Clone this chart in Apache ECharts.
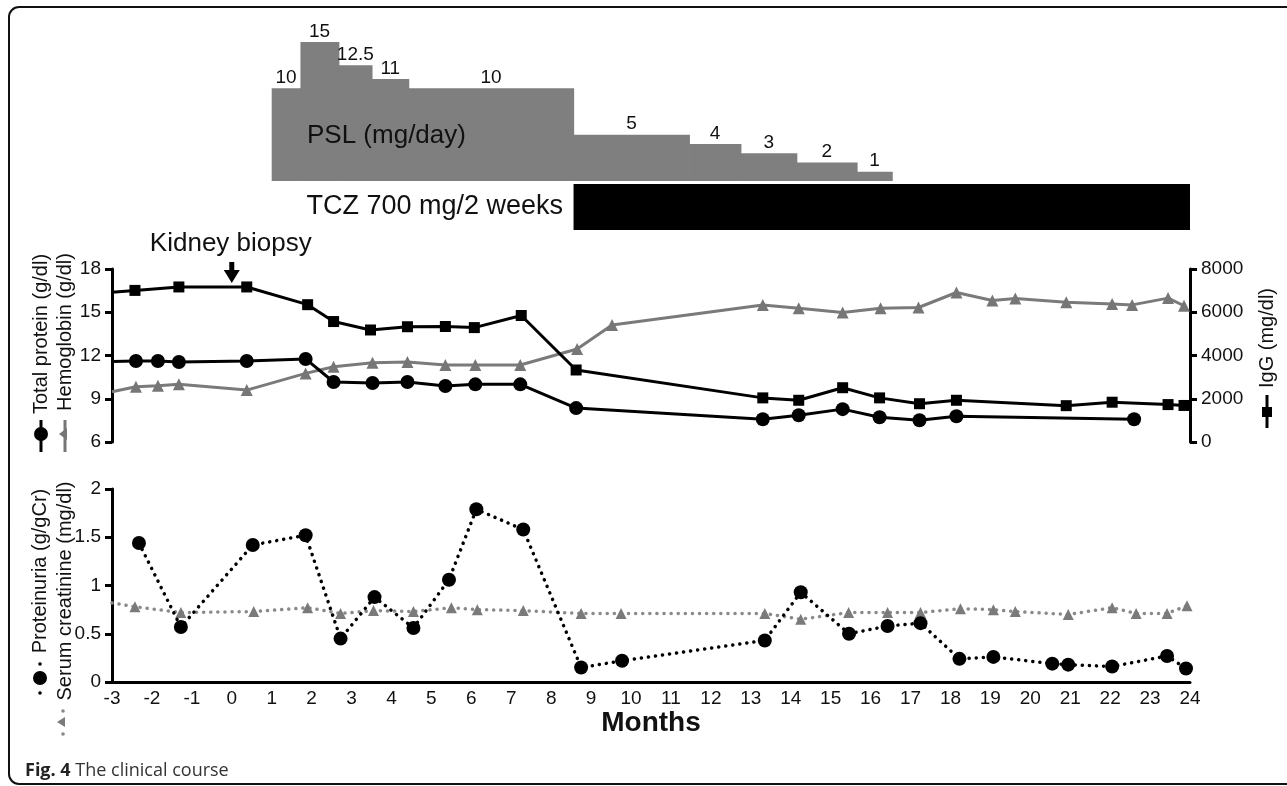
<!DOCTYPE html>
<html><head><meta charset="utf-8">
<script src="https://cdn.jsdelivr.net/npm/echarts@6/dist/echarts.min.js"></script>
<style>html,body{margin:0;padding:0;background:#fff}#c{width:1287px;height:786px}</style>
</head><body><div id="c"></div><script>
// ---------- data (months from kidney biopsy) ----------
const monthTicks = [-3,-2,-1,0,1,2,3,4,5,6,7,8,9,10,11,12,13,14,15,16,17,18,19,20,21,22,23,24];

const pslStart = [1.0, 1.72, 2.68, 3.51, 4.43, 8.56, 11.46, 12.75, 14.15, 15.66];
const pslEnd   = [1.72, 2.68, 3.51, 4.43, 8.56, 11.46, 12.75, 14.15, 15.66, 16.54];
const pslDose  = [10, 15, 12.5, 11, 10, 5, 4, 3, 2, 1];

const tczStart = [8.56];
const tczEnd   = [24];

const biopsyMonth = [0];

const tpMonths = [-3, -2.4, -1.85, -1.325, 0.375, 1.85, 2.55, 3.525, 4.4, 5.35, 6.1, 7.225, 8.625, 13.3, 14.2, 15.3, 16.225, 17.225, 18.15, 22.6];
const tpValues = [11.58, 11.62, 11.62, 11.55, 11.62, 11.76, 10.16, 10.09, 10.16, 9.88, 10.0, 10.0, 8.35, 7.58, 7.86, 8.28, 7.72, 7.51, 7.79, 7.58];

const hbMonths = [-3, -2.4, -1.85, -1.325, 0.375, 1.85, 2.55, 3.525, 4.4, 5.35, 6.1, 7.225, 8.65, 9.525, 13.3, 14.2, 15.3, 16.25, 17.2, 18.15, 19.05, 19.625, 20.9, 22.05, 22.55, 23.45, 23.85];
const hbValues = [9.48, 9.83, 9.9, 10.0, 9.6, 10.76, 11.22, 11.5, 11.55, 11.34, 11.34, 11.34, 12.45, 14.12, 15.5, 15.27, 14.98, 15.27, 15.33, 16.37, 15.81, 15.95, 15.7, 15.58, 15.51, 15.98, 15.45];

const igMonths = [-3, -2.425, -1.325, 0.375, 1.9, 2.55, 3.475, 4.4, 5.35, 6.075, 7.25, 8.625, 13.3, 14.2, 15.3, 16.225, 17.225, 18.15, 20.9, 22.05, 23.45, 23.85];
const igValues = [6930, 7010, 7170, 7170, 6350, 5570, 5180, 5330, 5340, 5290, 5850, 3330, 2040, 1930, 2510, 2040, 1770, 1930, 1680, 1840, 1730, 1690];

const upMonths = [-2.325, -1.275, 0.525, 1.85, 2.725, 3.575, 4.55, 5.44, 6.125, 7.3, 8.75, 9.775, 13.35, 14.25, 15.46, 16.425, 17.25, 18.225, 19.075, 20.55, 20.95, 22.05, 23.425, 23.9];
const upValues = [1.44, 0.57, 1.42, 1.52, 0.45, 0.88, 0.56, 1.06, 1.79, 1.58, 0.15, 0.22, 0.43, 0.93, 0.50, 0.58, 0.61, 0.24, 0.26, 0.19, 0.18, 0.16, 0.27, 0.14];

const crMonths = [-3, -2.425, -1.275, 0.55, 1.9, 2.725, 3.55, 4.55, 5.5, 6.15, 7.3, 8.75, 9.75, 13.35, 14.25, 15.45, 16.425, 17.25, 18.25, 19.075, 19.625, 20.95, 22.05, 22.65, 23.425, 23.925];
const crValues = [0.82, 0.78, 0.72, 0.73, 0.77, 0.71, 0.74, 0.73, 0.77, 0.75, 0.74, 0.71, 0.71, 0.71, 0.65, 0.72, 0.72, 0.72, 0.76, 0.75, 0.73, 0.70, 0.77, 0.71, 0.71, 0.79];

const midLeftTicks = [6, 9, 12, 15, 18];
const midRightTicks = [0, 2000, 4000, 6000, 8000];
const botTicks = [0, 0.5, 1, 1.5, 2];

// ---------- helpers ----------
const FONT = '"Liberation Sans", Arial, sans-serif';
function pts(ms, vs, edgeAtStart) {
  return ms.map((m, i) => (edgeAtStart && i === 0) ? { value: [m, vs[i]], symbol: 'none' } : [m, vs[i]]);
}
const L = 112, R = 1287 - 1190;
const xHidden = (g) => ({ type: 'value', gridIndex: g, min: monthTicks[0], max: monthTicks[monthTicks.length - 1], show: false });
const axisLineStyle = { show: true, onZero: false, lineStyle: { color: '#000', width: 3 } };
const tickStyle = { show: true, length: 7, inside: false, lineStyle: { color: '#000', width: 3 } };
const labelStyle = { color: '#111', fontSize: 19, fontFamily: FONT, margin: 11, formatter: v => String(v) };

const chart = echarts.init(document.getElementById('c'), null, { renderer: 'canvas' });

const option = {
  animation: false,
  backgroundColor: '#fff',
  grid: [
    { left: L, right: R, top: 42, height: 139 },
    { left: L, right: R, top: 184, height: 46 },
    { left: L, right: R, top: 269, height: 173 },
    { left: L, right: R, top: 489, height: 193 }
  ],
  xAxis: [
    xHidden(0), xHidden(1), xHidden(2),
    {
      type: 'value', gridIndex: 3, min: monthTicks[0], max: monthTicks[monthTicks.length - 1], interval: 1,
      axisLine: axisLineStyle, axisTick: { show: false }, splitLine: { show: false },
      axisLabel: Object.assign({}, labelStyle, { margin: 7 })
    }
  ],
  yAxis: [
    { type: 'value', gridIndex: 0, min: 0, max: 15, show: false },
    { type: 'value', gridIndex: 1, min: 0, max: 1, show: false },
    {
      type: 'value', gridIndex: 2, min: midLeftTicks[0], max: midLeftTicks[midLeftTicks.length - 1], interval: 3,
      axisLine: axisLineStyle, axisTick: tickStyle, splitLine: { show: false }, axisLabel: labelStyle
    },
    {
      type: 'value', gridIndex: 2, position: 'right', min: midRightTicks[0], max: midRightTicks[midRightTicks.length - 1], interval: 2000,
      axisLine: axisLineStyle, axisTick: tickStyle, splitLine: { show: false }, axisLabel: labelStyle
    },
    {
      type: 'value', gridIndex: 3, min: botTicks[0], max: botTicks[botTicks.length - 1], interval: 0.5,
      axisLine: axisLineStyle, axisTick: tickStyle, splitLine: { show: false }, axisLabel: labelStyle
    }
  ],
  series: [
    {
      type: 'custom', name: 'PSL', xAxisIndex: 0, yAxisIndex: 0, z: 1,
      data: pslDose.map((d, i) => [pslStart[i], pslEnd[i], d]),
      encode: { x: [0, 1], y: 2 },
      renderItem: function (params, api) {
        const s = api.value(0), e = api.value(1), d = api.value(2);
        const p0 = api.coord([s, d]), p1 = api.coord([e, 0]);
        return {
          type: 'group', children: [
            { type: 'rect', shape: { x: p0[0], y: p0[1], width: p1[0] - p0[0] + 0.6, height: p1[1] - p0[1] }, style: { fill: '#7f7f7f' } },
            { type: 'text', x: (p0[0] + p1[0]) / 2, y: p0[1] - 1, style: { text: String(d), fill: '#111', font: '19px ' + FONT, align: 'center', verticalAlign: 'bottom' } }
          ]
        };
      }
    },
    {
      type: 'custom', name: 'TCZ', xAxisIndex: 1, yAxisIndex: 1, z: 1,
      data: tczStart.map((s, i) => [s, tczEnd[i]]),
      encode: { x: [0, 1] },
      renderItem: function (params, api) {
        const p0 = api.coord([api.value(0), 1]), p1 = api.coord([api.value(1), 0]);
        return { type: 'rect', shape: { x: p0[0], y: p0[1], width: p1[0] - p0[0], height: p1[1] - p0[1] }, style: { fill: '#000' } };
      }
    },
    {
      type: 'custom', name: 'Kidney biopsy', xAxisIndex: 2, yAxisIndex: 2, clip: false,
      data: biopsyMonth.map(m => [m, midLeftTicks[midLeftTicks.length - 1]]),
      renderItem: function (params, api) {
        const p = api.coord([api.value(0), api.value(1)]);
        const x = p[0], y = p[1];
        return {
          type: 'group', children: [
            { type: 'rect', shape: { x: x - 2.5, y: y - 7, width: 5, height: 9 }, style: { fill: '#000' } },
            { type: 'polygon', shape: { points: [[x - 8, y + 1], [x + 8, y + 1], [x, y + 14]] }, style: { fill: '#000' } },
            { type: 'text', x: x - 1, y: y - 25, style: { text: 'Kidney biopsy', fill: '#111', font: '26px ' + FONT, align: 'center', verticalAlign: 'middle' } }
          ]
        };
      }
    },
    {
      type: 'line', name: 'Hemoglobin', xAxisIndex: 2, yAxisIndex: 2,
      data: pts(hbMonths, hbValues, true),
      symbol: 'triangle', symbolSize: 12, itemStyle: { color: '#767676' },
      lineStyle: { color: '#7a7a7a', width: 3 }, z: 2
    },
    {
      type: 'line', name: 'IgG', xAxisIndex: 2, yAxisIndex: 3,
      data: pts(igMonths, igValues, true),
      symbol: 'rect', symbolSize: 11, itemStyle: { color: '#000' },
      lineStyle: { color: '#000', width: 3 }, z: 3
    },
    {
      type: 'line', name: 'Total protein', xAxisIndex: 2, yAxisIndex: 2,
      data: pts(tpMonths, tpValues, true),
      symbol: 'circle', symbolSize: 14, itemStyle: { color: '#000' },
      lineStyle: { color: '#000', width: 3 }, z: 3
    },
    {
      type: 'line', name: 'Serum creatinine', xAxisIndex: 3, yAxisIndex: 4,
      data: pts(crMonths, crValues, true),
      symbol: 'triangle', symbolSize: 11, itemStyle: { color: '#7a7a7a' },
      lineStyle: { color: '#8a8a8a', width: 3.5, type: [0.1, 7], cap: 'round' }, z: 2
    },
    {
      type: 'line', name: 'Proteinuria', xAxisIndex: 3, yAxisIndex: 4,
      data: pts(upMonths, upValues, false),
      symbol: 'circle', symbolSize: 14, itemStyle: { color: '#000' },
      lineStyle: { color: '#000', width: 3.5, type: [0.1, 7], cap: 'round' }, z: 3
    }
  ],
  graphic: [
    // figure frame
    { type: 'rect', z: 0, shape: { x: 9, y: 7, width: 1300, height: 777, r: 10 }, style: { fill: 'none', stroke: '#111', lineWidth: 2 }, silent: true },
    // annotations
    { type: 'text', z: 50, x: 307, y: 136, style: { text: 'PSL (mg/day)', fill: '#111', font: '26px ' + FONT, align: 'left', verticalAlign: 'middle' } },
    { type: 'text', z: 50, x: 563, y: 207, style: { text: 'TCZ 700 mg/2 weeks', fill: '#111', font: '27px ' + FONT, align: 'right', verticalAlign: 'middle' } },
    // middle y titles
    { type: 'text', x: 41, y: 334, rotation: Math.PI / 2, style: { text: 'Total protein (g/dl)', fill: '#111', font: '20px ' + FONT, align: 'center', verticalAlign: 'middle' } },
    { type: 'line', shape: { x1: 41, y1: 420, x2: 41, y2: 452 }, style: { stroke: '#000', lineWidth: 3 } },
    { type: 'circle', shape: { cx: 41, cy: 434, r: 7 }, style: { fill: '#000' } },
    { type: 'text', x: 65, y: 332, rotation: Math.PI / 2, style: { text: 'Hemoglobin (g/dl)', fill: '#111', font: '20px ' + FONT, align: 'center', verticalAlign: 'middle' } },
    { type: 'line', shape: { x1: 65, y1: 420, x2: 65, y2: 452 }, style: { stroke: '#767676', lineWidth: 3 } },
    { type: 'polygon', shape: { points: [[59, 434], [67, 428], [67, 440]] }, style: { fill: '#767676' } },
    // right y title
    { type: 'text', x: 1267, y: 338, rotation: Math.PI / 2, style: { text: 'IgG (mg/dl)', fill: '#111', font: '20px ' + FONT, align: 'center', verticalAlign: 'middle' } },
    { type: 'line', shape: { x1: 1267, y1: 395, x2: 1267, y2: 428 }, style: { stroke: '#000', lineWidth: 3 } },
    { type: 'rect', shape: { x: 1262, y: 407, width: 10, height: 10 }, style: { fill: '#000' } },
    // bottom y titles
    { type: 'text', x: 40, y: 571, rotation: Math.PI / 2, style: { text: 'Proteinuria (g/gCr)', fill: '#111', font: '20px ' + FONT, align: 'center', verticalAlign: 'middle' } },
    { type: 'circle', shape: { cx: 40, cy: 664, r: 1.8 }, style: { fill: '#000' } },
    { type: 'circle', shape: { cx: 40, cy: 678, r: 7 }, style: { fill: '#000' } },
    { type: 'circle', shape: { cx: 40, cy: 693, r: 1.8 }, style: { fill: '#000' } },
    { type: 'text', x: 65, y: 591, rotation: Math.PI / 2, style: { text: 'Serum creatinine (mg/dl)', fill: '#111', font: '20px ' + FONT, align: 'center', verticalAlign: 'middle' } },
    { type: 'circle', shape: { cx: 63, cy: 711, r: 1.8 }, style: { fill: '#888' } },
    { type: 'polygon', shape: { points: [[57, 722], [65, 717], [65, 727]] }, style: { fill: '#7a7a7a' } },
    { type: 'circle', shape: { cx: 63, cy: 734, r: 1.8 }, style: { fill: '#888' } },
    // x title
    { type: 'text', x: 651, y: 723, style: { text: 'Months', fill: '#111', font: 'bold 28px ' + FONT, align: 'center', verticalAlign: 'middle' } },
    // caption
    { type: 'text', x: 25, y: 771, style: { text: '{b|Fig. 4} The clinical course', fill: '#333', font: '18px "Open Sans", sans-serif', align: 'left', verticalAlign: 'middle', rich: { b: { fontWeight: 'bold', fontSize: 18, fontFamily: '"Open Sans", sans-serif', fill: '#222' } } } }
  ]
};
chart.setOption(option);
</script></body></html>
